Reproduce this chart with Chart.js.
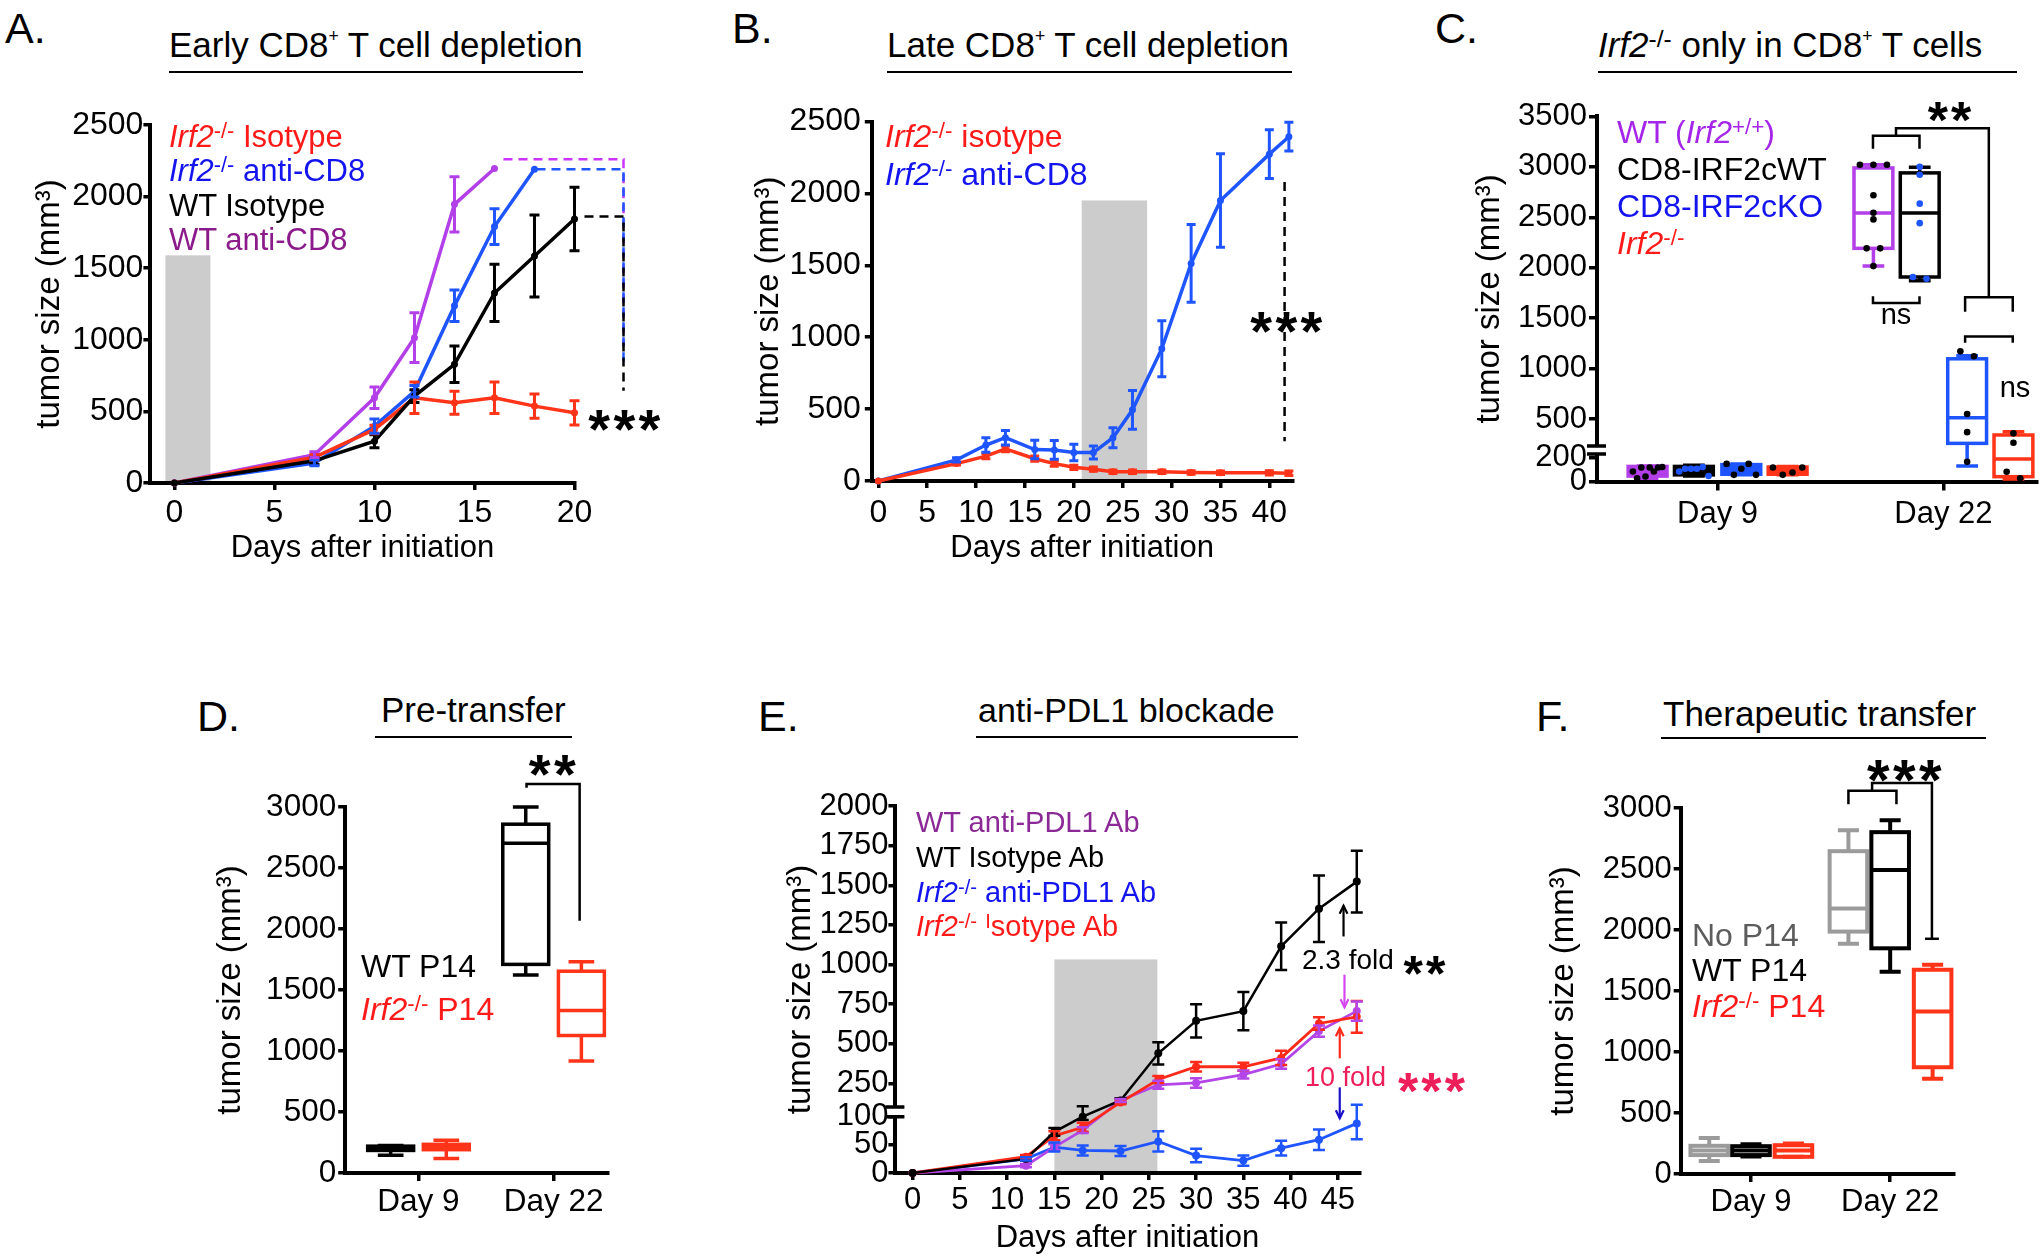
<!DOCTYPE html>
<html>
<head>
<meta charset="utf-8">
<script src="https://cdn.jsdelivr.net/npm/chart.js@4.4.1/dist/chart.umd.min.js"></script>
<style>
html, body { margin: 0; background: #fff; }
#page { position: relative; width: 2040px; height: 1260px; overflow: hidden; font-family: 'Liberation Sans', Arial, sans-serif; }
canvas { position: absolute; }
.t { position: absolute; line-height: 1; white-space: nowrap; }
.c { transform: translateX(-50%); }
.b { font-weight: bold; letter-spacing: .06em; }
.sup { font-size: .7em; position: relative; top: -.42em; line-height: 0; }
.plus { font-size: .5em; position: relative; top: -.85em; line-height: 0; }
.rule { position: absolute; height: 2px; background: #000; }
</style>
</head>
<body>
<div id="page"></div>
<script>
// ---------- A. early depletion ----------
const aDays = [0, 7, 10, 12, 14, 16, 18, 20]
const aTicksX = [0, 5, 10, 15, 20]
const aTicksY = [0, 500, 1000, 1500, 2000, 2500]
const aIrfIso = [0, 180, 374, 595, 560, 595, 537, 490]
const aIrfIsoErr = [0, 20, 30, 110, 80, 110, 85, 85]
const aIrfCd8 = [0, 140, 397, 640, 1237, 1791, 2191]
const aIrfCd8Err = [0, 20, 50, 40, 110, 125, 0]
const aWtIso = [0, 155, 292, 607, 829, 1327, 1585, 1843]
const aWtIsoErr = [0, 25, 45, 45, 128, 200, 286, 222]
const aWtCd8 = [0, 198, 595, 1015, 1946, 2196]
const aWtCd8Err = [0, 20, 75, 174, 193, 0]
const aShade = [-0.45, 1.8, 1590]
const aSigDay = 22.45
const aSigFrom = [16.45, 18.1, 20.5]
const aSigTop = [2261, 2191, 1861]
const aSigBottom = [954, 851, 645]

// ---------- B. late depletion ----------
const bDays = [0, 8, 11, 13, 16, 18, 20, 22, 24, 26, 29, 32, 35, 40, 42]
const bTicksX = [0, 5, 10, 15, 20, 25, 30, 35, 40]
const bTicksY = [0, 500, 1000, 1500, 2000, 2500]
const bIrfIso = [0, 121, 173, 224, 155, 121, 95, 82, 64, 64, 64, 59, 57, 57, 54]
const bIrfIsoErr = [0, 10, 18, 20, 18, 18, 15, 15, 12, 12, 12, 12, 12, 15, 15]
const bIrfCd8 = [0, 147, 250, 301, 219, 216, 198, 198, 301, 495, 920, 1513, 1951, 2273, 2394]
const bIrfCd8Err = [0, 15, 50, 50, 65, 65, 58, 45, 70, 135, 195, 270, 325, 170, 100]
const bShade = [20.8, 27.5, 1951]
const bSigDay = 41.56
const bSigRange = [2080, 276]

// ---------- C. Irf2 only in CD8 ----------
const cDayLabels = ['Day 9', 'Day 22']
const cTicksY = [0, 200, 500, 1000, 1500, 2000, 2500, 3000, 3500]
const cBreakVals = [0, 227, 232, 500, 3500]
const cBreakDecs = [0, 0.075, 0.097, 0.1711, 1]
// min, q1, median, q3, max for WT, CD8-IRF2cWT, CD8-IRF2cKO, Irf2-/-
const cDay9 = [[27, 45, 85, 125, 128], [45, 55, 85, 125, 135], [55, 60, 100, 140, 146], [55, 60, 95, 120, 124]]
const cDay22 = [[2016, 2192, 2543, 2989, 3021], [1872, 1908, 2543, 2940, 2996], [128, 259, 513, 1097, 1127], [20, 40, 186, 342, 375]]
const cDay9Dots = [[83, 27, 116, 41, 116, 83, 116, 120], [83, 106, 106, 106, 120, 45], [146, 55, 106, 146, 55], [116, 55, 74, 116]]
const cDay22Dots = [[3021, 3021, 3021, 2719, 2545, 2479, 2192, 2192, 2016], [3000, 2922, 2635, 2442, 1908, 1890], [1171, 1123, 550, 370, 164], [358, 265, 81, 27]]
const cSigPair = [[1.688, 3179], [1.688, 3308], [1.894, 3308], [1.894, 3179]]
const cSigAll = [[1.79, 3308], [1.79, 3382], [2.201, 3382], [2.201, 1706]]
const cSigPair2 = [[2.096, 1564], [2.096, 1706], [2.307, 1706], [2.307, 1564]]
const cNs1 = [[1.688, 1717], [1.688, 1651], [1.894, 1651], [1.894, 1717]]
const cNs2 = [[2.096, 1256], [2.096, 1318], [2.307, 1318], [2.307, 1256]]

// ---------- D. pre-transfer ----------
const dTicksY = [0, 500, 1000, 1500, 2000, 2500, 3000]
const dDay9 = [[145, 185, 200, 220, 225], [119, 191, 213, 235, 269]]
const dDay22 = [[1622, 1710, 2703, 2859, 3000], [918, 1127, 1331, 1654, 1732]]
const dSig = [[1.8, 3157], [1.8, 3188], [2.193, 3188], [2.193, 2067]]

// ---------- E. anti-PDL1 ----------
const eDays = [0, 12, 15, 18, 22, 26, 30, 35, 39, 43, 47]
const eTicksX = [0, 5, 10, 15, 20, 25, 30, 35, 40, 45]
const eTicksY = [0, 50, 100, 250, 500, 750, 1000, 1250, 1500, 1750, 2000]
const eBreakVals = [0, 100, 101.5, 2000]
const eBreakDecs = [0, 0.1536, 0.18, 1]
const eWtPdl1 = [0, 13, 46, 76, 142, 241, 253, 306, 372, 580, 706]
const eWtPdl1Err = [0, 3, 5, 5, 10, 25, 30, 25, 30, 35, 60]
const eWtIso = [0, 25, 73, 100, 142, 440, 645, 706, 1115, 1352, 1523]
const eWtIsoErr = [0, 3, 7, 6, 15, 70, 105, 120, 150, 210, 195]
const eIrfPdl1 = [0, 25, 46, 40, 39, 56, 31, 22, 44, 59, 88]
const eIrfPdl1Err = [0, 3, 8, 9, 9, 18, 12, 9, 13, 18, 28]
const eIrfIso = [0, 29, 66, 81, 130, 275, 355, 355, 411, 628, 670]
const eIrfIsoErr = [0, 3, 8, 8, 12, 22, 30, 25, 45, 40, 100]
const eShade = [15, 25.9, 1032]
const eArrowDay = [45.6, 45.7, 45.2, 45.2]
const eArrowFrom = [1177, 936, 408, 225]
const eArrowTo = [1371, 730, 598, 97]

// ---------- F. therapeutic transfer ----------
const fTicksY = [0, 500, 1000, 1500, 2000, 2500, 3000]
const fDay9 = [[106, 155, 192, 231, 296], [143, 155, 192, 228, 243], [141, 141, 192, 236, 249]]
const fDay22 = [[1887, 1987, 2176, 2646, 2818], [1658, 1850, 2492, 2802, 2900], [781, 875, 1332, 1674, 1715]]
const fSigPair = [[1.7, 3031], [1.7, 3141], [2.045, 3141], [2.045, 3031]]
const fSigAll = [[1.87, 3141], [1.87, 3204], [2.3, 3204], [2.3, 1928]]
const fSigTick = [[2.25, 1928], [2.35, 1928]]

// ---------- colours ----------
const RED = '#ff3419'
const BLUE = '#1f55ff'
const PURPLE = '#b23fe8'
const GREY = '#9b9b9b'

Chart.defaults.font.family = "'Liberation Sans', Arial, sans-serif"
Chart.defaults.color = '#000'

const page = document.getElementById('page')

function canvasAt(box) {
  const c = document.createElement('canvas')
  c.width = box[2]
  c.height = box[3]
  c.style.left = box[0] + 'px'
  c.style.top = box[1] + 'px'
  page.appendChild(c)
  return c
}

function txt(html, x, base, size, color = '#000', cls = '') {
  const d = document.createElement('div')
  d.className = 't ' + cls
  d.style.cssText = `left:${x}px;top:${base - 0.8465 * size}px;font-size:${size}px;color:${color}`
  d.innerHTML = html
  page.appendChild(d)
}

const stars = (s, cx, cy, size, color = '#000') => txt(s, cx, cy + 0.58 * size, size, color, 'c b')

function rule(x0, x1, y) {
  const d = document.createElement('div')
  d.className = 'rule'
  d.style.cssText = `left:${x0}px;top:${y - 1}px;width:${x1 - x0}px`
  page.appendChild(d)
}

function brokenScale(id, vals, decs) {
  const toDec = v => {
    for (let i = 1; i < vals.length; i++) {
      if (v <= vals[i] || i === vals.length - 1) {
        return decs[i - 1] + (v - vals[i - 1]) / (vals[i] - vals[i - 1]) * (decs[i] - decs[i - 1])
      }
    }
  }
  const fromDec = d => {
    for (let i = 1; i < decs.length; i++) {
      if (d <= decs[i] || i === decs.length - 1) {
        return vals[i - 1] + (d - decs[i - 1]) / (decs[i] - decs[i - 1]) * (vals[i] - vals[i - 1])
      }
    }
  }
  class Broken extends Chart.LinearScale {
    getPixelForValue(v) { return v === null || isNaN(v) ? NaN : this.getPixelForDecimal(toDec(v)) }
    getValueForPixel(p) { return fromDec(this.getDecimalForPixel(p)) }
  }
  Broken.id = id
  Broken.defaults = {}
  Chart.register(Broken)
}
brokenScale('brokenC', cBreakVals, cBreakDecs)
brokenScale('brokenE', eBreakVals, eBreakDecs)

// ---------- plugins ----------
const errorBars = (width, cap) => ({
  id: 'errorBars',
  afterDatasetsDraw(chart) {
    const { ctx } = chart
    const y = chart.scales.y
    chart.data.datasets.forEach((ds, i) => {
      if (!ds.errors) return
      const meta = chart.getDatasetMeta(i)
      ctx.save()
      ctx.strokeStyle = ds.borderColor
      ctx.lineWidth = width
      meta.data.forEach((pt, j) => {
        const e = ds.errors[j]
        if (!e) return
        const v = ds.data[j].y
        const top = y.getPixelForValue(v + e)
        const bot = y.getPixelForValue(Math.max(v - e, 0))
        ctx.beginPath()
        ctx.moveTo(pt.x, top); ctx.lineTo(pt.x, bot)
        ctx.moveTo(pt.x - cap, top); ctx.lineTo(pt.x + cap, top)
        ctx.moveTo(pt.x - cap, bot); ctx.lineTo(pt.x + cap, bot)
        ctx.stroke()
      })
      ctx.restore()
    })
  }
})

const shade = ([x0, x1, top]) => ({
  id: 'shade',
  beforeDatasetsDraw(chart) {
    const { ctx, scales: { x, y } } = chart
    const px0 = x.getPixelForValue(x0), px1 = x.getPixelForValue(x1)
    const py0 = y.getPixelForValue(0) - 2, py1 = y.getPixelForValue(top)
    ctx.save()
    ctx.fillStyle = '#cccccc'
    ctx.fillRect(px0, py1, px1 - px0, py0 - py1)
    ctx.restore()
  }
})

const paths = list => ({
  id: 'paths',
  afterDatasetsDraw(chart) {
    const { ctx, scales: { x, y } } = chart
    list.forEach(p => {
      const pts = p.pts.map(([vx, vy]) => [x.getPixelForValue(vx), y.getPixelForValue(vy)])
      ctx.save()
      ctx.strokeStyle = p.color
      ctx.lineWidth = p.width
      ctx.setLineDash(p.dash || [])
      ctx.beginPath()
      pts.forEach(([px, py], i) => i ? ctx.lineTo(px, py) : ctx.moveTo(px, py))
      ctx.stroke()
      if (p.head) {
        const [x1, y1] = pts[pts.length - 2]
        const [x2, y2] = pts[pts.length - 1]
        const a = Math.atan2(y2 - y1, x2 - x1)
        ctx.setLineDash([])
        ctx.beginPath()
        ctx.moveTo(x2 - p.head * Math.cos(a - 0.45), y2 - p.head * Math.sin(a - 0.45))
        ctx.lineTo(x2, y2)
        ctx.lineTo(x2 - p.head * Math.cos(a + 0.45), y2 - p.head * Math.sin(a + 0.45))
        ctx.stroke()
      }
      ctx.restore()
    })
  }
})

const boxes = list => ({
  id: 'boxes',
  beforeDatasetsDraw(chart) {
    const { ctx, scales: { x, y } } = chart
    list.forEach(b => {
      const [mn, q1, md, q3, mx] = b.stats.map(v => y.getPixelForValue(v))
      const xl = x.getPixelForValue(b.x - b.w / 2)
      const xr = x.getPixelForValue(b.x + b.w / 2)
      const xc = x.getPixelForValue(b.x)
      const cap = (xr - xl) * 0.28
      ctx.save()
      ctx.strokeStyle = b.color
      ctx.fillStyle = b.color
      ctx.lineWidth = b.lw
      if (b.fill) ctx.fillRect(xl, q3, xr - xl, q1 - q3)
      ctx.strokeRect(xl, q3, xr - xl, q1 - q3)
      ctx.beginPath()
      ctx.moveTo(xl, md); ctx.lineTo(xr, md)
      ctx.moveTo(xc, q3); ctx.lineTo(xc, mx)
      ctx.moveTo(xc - cap, mx); ctx.lineTo(xc + cap, mx)
      ctx.moveTo(xc, q1); ctx.lineTo(xc, mn)
      ctx.moveTo(xc - cap, mn); ctx.lineTo(xc + cap, mn)
      ctx.stroke()
      ctx.restore()
    })
  }
})

const axisBreak = (lo, hi) => ({
  id: 'axisBreak',
  afterDraw(chart) {
    const { ctx, chartArea, scales: { y } } = chart
    const p1 = y.getPixelForDecimal(lo), p2 = y.getPixelForDecimal(hi)
    const x0 = chartArea.left
    ctx.save()
    ctx.fillStyle = '#fff'
    ctx.fillRect(x0 - 7, p2, 14, p1 - p2)
    ctx.strokeStyle = '#000'
    ctx.lineWidth = 3.5
    ctx.beginPath()
    ctx.moveTo(x0 - 10, p1); ctx.lineTo(x0 + 9, p1)
    ctx.moveTo(x0 - 10, p2); ctx.lineTo(x0 + 9, p2)
    ctx.stroke()
    ctx.restore()
  }
})

// ---------- layout helper ----------
function panelOptions(p) {
  const [bx, by, bw, bh] = p.box
  const [l, t, r, b] = p.area
  const tickFont = { size: p.tickSize }
  const marks = len => ({ display: true, drawOnChartArea: false, drawTicks: true, tickLength: len, lineWidth: 3.5, color: '#000' })
  const border = { display: true, width: 4, color: '#000' }
  return {
    responsive: false,
    animation: false,
    events: [],
    layout: { padding: { left: 0, top: t - by, right: bx + bw - r, bottom: 0 } },
    plugins: { legend: { display: false }, tooltip: { enabled: false } },
    scales: {
      x: {
        type: 'linear', bounds: 'data', min: p.xRange[0], max: p.xRange[1],
        afterFit: s => { s.height = by + bh - b },
        afterBuildTicks: s => { s.ticks = p.xTicks.map(v => ({ value: v })) },
        ticks: { font: tickFont, padding: p.xPad, autoSkip: false, maxRotation: 0, callback: p.xLabel || (v => String(v)) },
        grid: marks(p.xTickLen), border,
        title: p.xTitle
          ? { display: true, text: p.xTitle, font: { size: 31 }, padding: { top: 0, bottom: by + bh - p.xTitleY - 31 * 0.6 } }
          : { display: false }
      },
      y: {
        type: p.yType || 'linear', bounds: 'data', min: p.yRange[0], max: p.yRange[1],
        afterFit: s => { s.width = l - bx },
        afterBuildTicks: s => { s.ticks = p.yTicks.map(v => ({ value: v })) },
        ticks: { font: tickFont, padding: p.yPad, autoSkip: false, callback: v => String(v) },
        grid: marks(p.yTickLen), border,
        title: { display: true, text: 'tumor size (mm³)', font: { size: 33 }, padding: { top: p.yTitleX - bx - 33 * 0.6, bottom: 0 } }
      }
    }
  }
}

const series = (days, vals, errs, color, width, radius) => ({
  type: 'line',
  data: vals.map((v, i) => ({ x: days[i], y: v })),
  errors: errs,
  borderColor: color,
  backgroundColor: color,
  borderWidth: width,
  pointRadius: radius,
  pointBorderWidth: 0,
  pointHoverRadius: 0,
  tension: 0,
  fill: false,
  clip: false
})

// box plot helpers: day 9 at x = 1, day 22 at x = 2
const boxList = (day9, day22, offsets, width, colors, lw, fill9) => [
  ...day9.map((s, g) => ({ x: 1 + offsets[g], w: width, stats: s, color: colors[g], lw, fill: fill9 })),
  ...day22.map((s, g) => ({ x: 2 + offsets[g], w: width, stats: s, color: colors[g], lw }))
]

// ---------- A ----------
new Chart(canvasAt([0, 90, 680, 500]), {
  type: 'line',
  data: {
    datasets: [
      series(aDays, aWtIso, aWtIsoErr, '#000', 3.5, 3.5),
      series(aDays, aIrfIso, aIrfIsoErr, RED, 3.5, 3.5),
      series(aDays, aIrfCd8, aIrfCd8Err, BLUE, 3.5, 3.5),
      series(aDays, aWtCd8, aWtCd8Err, PURPLE, 3.5, 3.5)
    ]
  },
  options: panelOptions({
    box: [0, 90, 680, 500], area: [150.4, 125, 574.5, 483],
    xRange: [-1.2, 20], yRange: [0, 2500], xTicks: aTicksX, yTicks: aTicksY,
    tickSize: 32, xPad: 4, yPad: 0, xTickLen: 7, yTickLen: 7,
    xTitle: 'Days after initiation', xTitleY: 548, yTitleX: 50
  }),
  plugins: [
    shade(aShade),
    errorBars(3, 5),
    paths(aSigFrom.map((d, i) => ({
      pts: [[d, aSigTop[i]], [aSigDay, aSigTop[i]], [aSigDay, aSigBottom[i]]],
      color: ['#cc33ff', BLUE, '#000'][i], width: 2.5, dash: [9, 6]
    })))
  ]
})

// ---------- B ----------
new Chart(canvasAt([690, 90, 680, 500]), {
  type: 'line',
  data: {
    datasets: [
      series(bDays, bIrfIso, bIrfIsoErr, RED, 3.5, 3.5),
      series(bDays, bIrfCd8, bIrfCd8Err, BLUE, 3.5, 3.5)
    ]
  },
  options: panelOptions({
    box: [690, 90, 680, 500], area: [871.8, 121.5, 1292.4, 481],
    xRange: [-0.67, 42.36], yRange: [0, 2500], xTicks: bTicksX, yTicks: bTicksY,
    tickSize: 32, xPad: 6, yPad: 4, xTickLen: 7, yTickLen: 7,
    xTitle: 'Days after initiation', xTitleY: 548, yTitleX: 769
  }),
  plugins: [
    shade(bShade),
    errorBars(3, 4.5),
    paths([{ pts: [[bSigDay, bSigRange[0]], [bSigDay, bSigRange[1]]], color: '#000', width: 2.5, dash: [9, 6] }])
  ]
})

// ---------- C ----------
const cOffsets = [-0.31, -0.105, 0.105, 0.31]
const cBoxColors = [PURPLE, '#000', BLUE, RED]
const cDotColors = ['#000', BLUE, '#000', '#000']
const spread9 = (vals, g) => vals.map((v, k) => ({ x: 1 + cOffsets[g] + (k / (vals.length - 1) - 0.5) * 0.13, y: v }))
const spread22 = (vals, g) => vals.map((v, k) => {
  const near = vals.map((w, j) => [w, j]).filter(([w]) => Math.abs(w - v) < 60)
  const rank = near.findIndex(([, j]) => j === k)
  return { x: 2 + cOffsets[g] + (rank - (near.length - 1) / 2) * 0.06, y: v }
})
new Chart(canvasAt([1380, 80, 660, 500]), {
  type: 'scatter',
  data: {
    datasets: cBoxColors.map((c, g) => ({
      data: [...spread9(cDay9Dots[g], g), ...spread22(cDay22Dots[g], g)],
      pointRadius: 3.3, pointBorderWidth: 0, pointHoverRadius: 0,
      backgroundColor: cDotColors[g], clip: false
    }))
  },
  options: panelOptions({
    box: [1380, 80, 660, 500], area: [1597, 116.4, 2038, 481.5], yType: 'brokenC',
    xRange: [0.466, 2.413], yRange: [0, 3500], xTicks: [1, 2], yTicks: cTicksY,
    xLabel: v => cDayLabels[v - 1],
    tickSize: 31, xPad: 5, yPad: 2, xTickLen: 9, yTickLen: 8, yTitleX: 1490
  }),
  plugins: [
    boxes(boxList(cDay9, cDay22, cOffsets, 0.172, cBoxColors, 3.5, true)),
    axisBreak(0.075, 0.097),
    paths([cSigPair, cSigAll, cSigPair2, cNs1, cNs2].map(pts => ({ pts, color: '#000', width: 2.5 })))
  ]
})

// ---------- D ----------
const dOffsets = [-0.206, 0.206]
new Chart(canvasAt([150, 770, 480, 470]), {
  type: 'scatter',
  data: { datasets: [] },
  options: panelOptions({
    box: [150, 770, 480, 470], area: [345.2, 807, 608, 1173],
    xRange: [0.4575, 2.403], yRange: [0, 3000], xTicks: [1, 2], yTicks: dTicksY,
    xLabel: v => cDayLabels[v - 1],
    tickSize: 31.5, xPad: 2, yPad: 2, xTickLen: 8, yTickLen: 7, yTitleX: 231
  }),
  plugins: [
    boxes(boxList(dDay9, dDay22, dOffsets, 0.34, ['#000', RED], 3.5, false)),
    paths([{ pts: dSig, color: '#000', width: 2.5 }])
  ]
})

// ---------- E ----------
new Chart(canvasAt([740, 770, 680, 490]), {
  type: 'line',
  data: {
    datasets: [
      series(eDays, eWtIso, eWtIsoErr, '#000', 2.5, 4),
      series(eDays, eIrfIso, eIrfIsoErr, '#ff2a1a', 2.8, 4),
      series(eDays, eWtPdl1, eWtPdl1Err, '#b445e8', 2.8, 4),
      series(eDays, eIrfPdl1, eIrfPdl1Err, BLUE, 2.8, 4)
    ]
  },
  options: panelOptions({
    box: [740, 770, 680, 490], area: [895.4, 806, 1359.6, 1173], yType: 'brokenE',
    xRange: [-1.82, 47.3], yRange: [0, 2000], xTicks: eTicksX, yTicks: eTicksY,
    tickSize: 31, xPad: 1.5, yPad: 0, xTickLen: 7, yTickLen: 7,
    xTitle: 'Days after initiation', xTitleY: 1238, yTitleX: 801
  }),
  plugins: [
    shade(eShade),
    errorBars(2.5, 6),
    axisBreak(0.1536, 0.18),
    paths(eArrowDay.map((d, i) => ({
      pts: [[d, eArrowFrom[i]], [d, eArrowTo[i]]],
      color: ['#000', '#d546f0', '#ff2a1a', '#1a10c8'][i], width: 2.2, head: 9
    })))
  ]
})

// ---------- F ----------
const fOffsets = [-0.3, 0, 0.305]
new Chart(canvasAt([1500, 770, 540, 470]), {
  type: 'scatter',
  data: { datasets: [] },
  options: panelOptions({
    box: [1500, 770, 540, 470], area: [1680.7, 808, 1953.5, 1174],
    xRange: [0.495, 2.455], yRange: [0, 3000], xTicks: [1, 2], yTicks: fTicksY,
    xLabel: v => cDayLabels[v - 1],
    tickSize: 31, xPad: 2, yPad: 2, xTickLen: 8, yTickLen: 7, yTitleX: 1564
  }),
  plugins: [
    boxes(boxList(fDay9, fDay22, fOffsets, 0.27, [GREY, '#000', RED], 4, false)),
    paths([fSigPair, fSigAll, fSigTick].map(pts => ({ pts, color: '#000', width: 2.5 })))
  ]
})

// ---------- text ----------
const irf = (sup = '-/-') => `<i>Irf2</i><span class="sup">${sup}</span>`

txt('A.', 5, 43, 43)
txt('B.', 732, 43, 43)
txt('C.', 1435, 43, 43)
txt('D.', 197, 731, 43)
txt('E.', 758, 731, 43)
txt('F.', 1536, 731, 43)

txt('Early CD8<span class="plus">+</span> T cell depletion', 169, 57, 35)
rule(169, 583, 72)
txt('Late CD8<span class="plus">+</span> T cell depletion', 887, 57, 35)
rule(887, 1292, 72)
txt(`${irf()} only in CD8<span class="plus">+</span> T cells`, 1598, 57, 35)
rule(1598, 2017, 72)
txt('Pre-transfer', 381, 722, 35)
rule(375, 572, 737)
txt('anti-PDL1 blockade', 978, 722, 34)
rule(976, 1298, 737)
txt('Therapeutic transfer', 1663, 726, 35)
rule(1661, 1986, 738)

// legends
txt(`${irf()} Isotype`, 169, 147, 31, '#ff1a1a')
txt(`${irf()} anti-CD8`, 169, 181.5, 31, '#1414ee')
txt('WT Isotype', 169, 216, 31)
txt('WT anti-CD8', 169, 250, 31, '#8b1a8b')

txt(`${irf()} isotype`, 885, 147, 32, '#ff1a1a')
txt(`${irf()} anti-CD8`, 885, 185, 32, '#1414ee')

txt(`WT (${irf('+/+')})`, 1617, 143, 32, '#a526e8')
txt('CD8-IRF2cWT', 1617, 180, 32)
txt('CD8-IRF2cKO', 1617, 217, 32, '#1414ee')
txt(irf(), 1617, 254, 32, '#ff1a1a')

txt('WT P14', 361, 977, 32)
txt(`${irf()} P14`, 361, 1020, 32, '#ff1a1a')

txt('WT anti-PDL1 Ab', 916, 833, 29, '#8b2a96')
txt('WT Isotype Ab', 916, 868, 29)
txt(`${irf()} anti-PDL1 Ab`, 916, 903, 29, '#1414ee')
txt(`${irf()} <span class="sup">I</span>sotype Ab`, 916, 937, 29, '#ff1a1a')

txt('No P14', 1692, 946, 32, '#5c5c5c')
txt('WT P14', 1692, 981, 32)
txt(`${irf()} P14`, 1692, 1017, 32, '#ff1a1a')

// significance marks
stars('***', 626, 416, 56)
stars('***', 1288, 318, 56)
stars('**', 1951, 108, 52)
txt('ns', 1896, 317 + 0.26 * 29, 29, '#000', 'c')
txt('ns', 2015, 390 + 0.26 * 29, 29, '#000', 'c')
stars('**', 554, 761, 56)
txt('2.3 fold', 1302, 970, 28)
stars('**', 1426, 962, 50)
txt('10 fold', 1305, 1087, 27, '#ee1e5a')
stars('***', 1433, 1079, 52, '#ee1e5a')
stars('***', 1906, 766, 58)
</script>
</body>
</html>
